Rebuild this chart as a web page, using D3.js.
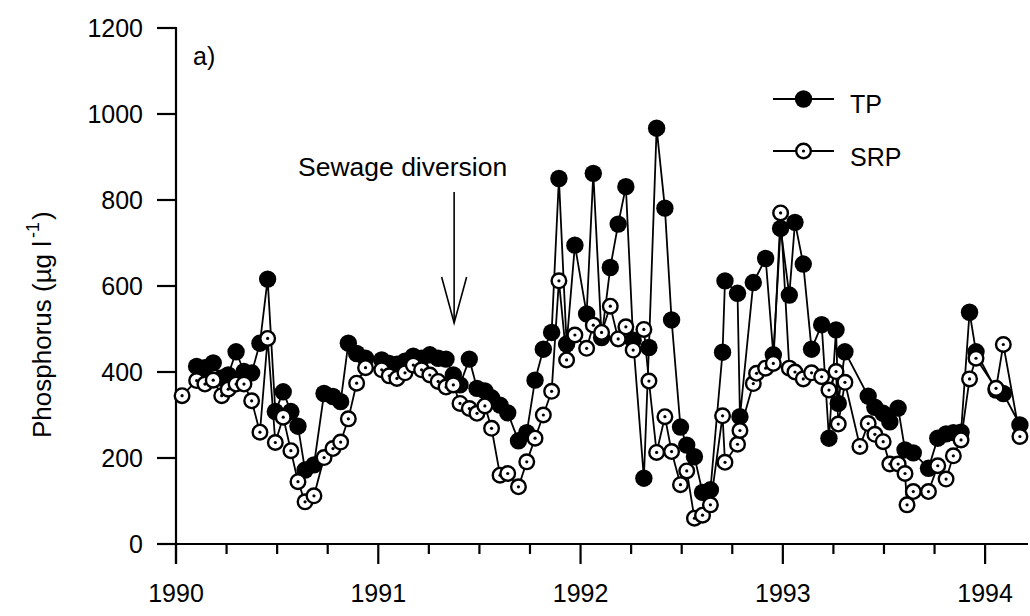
<!DOCTYPE html>
<html>
<head>
<meta charset="utf-8">
<script src="https://cdn.jsdelivr.net/npm/d3@7"></script>
<style>
  html, body { margin: 0; padding: 0; background: #fff; }
  svg { display: block; }
  text { font-family: "Liberation Sans", Arial, Helvetica, sans-serif; fill: #000; }
</style>
</head>
<body>
<svg id="chart" width="1030" height="616"></svg>
<script>
// Sampling dates (decimal years) and phosphorus concentrations (µg/l)
const dates = [
  1990.030, 1990.102, 1990.143, 1990.184, 1990.226, 1990.258, 1990.297, 1990.336, 1990.374, 1990.415,
  1990.453, 1990.491, 1990.530, 1990.568, 1990.603, 1990.638, 1990.682, 1990.732, 1990.776, 1990.814,
  1990.852, 1990.893, 1990.937, 1991.017, 1991.054, 1991.092, 1991.132, 1991.173, 1991.214, 1991.255,
  1991.296, 1991.335, 1991.371, 1991.404, 1991.450, 1991.488, 1991.527, 1991.560, 1991.602, 1991.640,
  1991.693, 1991.734, 1991.775, 1991.816, 1991.857, 1991.893, 1991.931, 1991.972, 1992.030, 1992.063,
  1992.104, 1992.147, 1992.186, 1992.224, 1992.260, 1992.313, 1992.338, 1992.376, 1992.417, 1992.450,
  1992.494, 1992.525, 1992.563, 1992.603, 1992.642, 1992.702, 1992.714, 1992.776, 1992.788, 1992.854,
  1992.870, 1992.915, 1992.953, 1992.989, 1993.032, 1993.060, 1993.101, 1993.142, 1993.192, 1993.228,
  1993.263, 1993.274, 1993.307, 1993.381, 1993.422, 1993.455, 1993.496, 1993.529, 1993.570, 1993.604,
  1993.614, 1993.645, 1993.720, 1993.766, 1993.807, 1993.843, 1993.881, 1993.923, 1993.955, 1994.054,
  1994.090, 1994.172
];

// Total phosphorus (null where no sample was plotted)
const tp = [
  null, 413, 410, 421, 386, 393, 447, 401, 398, 467,
  616, 308, 354, 308, 274, 172, 184, 350, 343, 331,
  467, 443, 432, 428, 420, 418, 425, 437, 432, 440,
  432, 430, 393, 370, 430, 362, 356, 340, 323, 305,
  240, 259, 381, 453, 492, 850, 465, 695, 535, 862,
  480, 643, 744, 831, 474, 153, 457, 967, 781, 521,
  272, 230, 203, 120, 126, 446, 612, 583, 296, 608,
  null, 664, 440, 734, 579, 748, 651, 453, 510, 246,
  498, 327, 447, null, 344, 318, 304, 284, 316, 219,
  null, 212, 176, 246, 256, 259, 260, 539, 447, 358,
  350, 277
];

// Soluble reactive phosphorus
const srp = [
  345, 380, 372, 381, 345, 360, 372, 372, 333, 260,
  478, 236, 295, 217, 145, 98, 112, 201, 222, 237,
  291, 374, 410, 405, 391, 385, 398, 416, 405, 393,
  378, 365, 370, 327, 315, 304, 321, 269, 160, 164,
  133, 191, 246, 300, 355, 612, 428, 486, 455, 509,
  492, 553, 477, 505, 451, 499, 379, 213, 296, 215,
  138, 170, 60, 67, 91, 298, 190, 232, 264, 373,
  397, 409, 420, 770, 409, 400, 384, 398, 389, 358,
  401, 279, 376, 227, 280, 255, 238, 186, 186, 164,
  91, 122, 122, 182, 151, 205, 242, 384, 432, 362,
  464, 250
];

const yTicks = [0, 200, 400, 600, 800, 1000, 1200];
const yearTicks = [1990, 1991, 1992, 1993, 1994];
const quarterTicks = d3.range(1990.25, 1994.2, 0.25).filter(q => q % 1 !== 0);

const svg = d3.select("#chart");
const x = d3.scaleLinear().domain([1990, 1994.212]).range([176, 1028]);
const y = d3.scaleLinear().domain([0, 1200]).range([544, 28]);

// Axes
const axisG = svg.append("g").attr("stroke", "#000").attr("stroke-width", 2.2);
axisG.append("line").attr("x1", x(1990)).attr("x2", x(1990)).attr("y1", y(1200) - 1).attr("y2", y(0) + 20);
axisG.append("line").attr("x1", x(1990) - 19).attr("x2", x.range()[1]).attr("y1", y(0)).attr("y2", y(0));
axisG.selectAll(".yt").data(yTicks).join("line")
  .attr("x1", x(1990) - 19).attr("x2", x(1990))
  .attr("y1", d => y(d)).attr("y2", d => y(d));
axisG.selectAll(".xm").data(yearTicks).join("line")
  .attr("x1", d => x(d)).attr("x2", d => x(d))
  .attr("y1", y(0)).attr("y2", y(0) + 20);
axisG.selectAll(".xq").data(quarterTicks).join("line")
  .attr("x1", d => x(d)).attr("x2", d => x(d))
  .attr("y1", y(0)).attr("y2", y(0) + 10);

svg.selectAll(".ylab").data(yTicks).join("text")
  .attr("x", x(1990) - 33).attr("y", d => y(d) + 9)
  .attr("text-anchor", "end").attr("font-size", 25)
  .text(d => d);
svg.selectAll(".xlab").data(yearTicks).join("text")
  .attr("x", d => x(d)).attr("y", 602)
  .attr("text-anchor", "middle").attr("font-size", 25)
  .text(d => d);

// Y axis title
const yt = svg.append("text")
  .attr("transform", "translate(51,438) rotate(-90)")
  .attr("text-anchor", "start").attr("font-size", 26);
yt.append("tspan").text("Phosphorus (µg l");
yt.append("tspan").attr("font-size", 18).attr("dx", 3).attr("dy", -12).text("-1");
yt.append("tspan").attr("dx", 2).attr("dy", 12).text(")");

// Panel label
svg.append("text").attr("x", 193).attr("y", 65).attr("font-size", 25).text("a)");

// Annotation
svg.append("text").attr("x", 298).attr("y", 176).attr("font-size", 26.5).text("Sewage diversion");
const arrowX = x(1991.375);
const ag = svg.append("g").attr("stroke", "#000").attr("stroke-width", 1.6).attr("fill", "none");
ag.append("line").attr("x1", arrowX).attr("x2", arrowX).attr("y1", 192).attr("y2", 323);
ag.append("path").attr("d", `M${arrowX - 12.5},277 L${arrowX},323 L${arrowX + 12.5},277`);

// Series
const rows = dates.map((d, i) => ({ d, tp: tp[i], srp: srp[i] }));
const tpRows = rows.filter(r => r.tp !== null);
const srpRows = rows.filter(r => r.srp !== null);

const lineTP = d3.line().x(r => x(r.d)).y(r => y(r.tp));
const lineSRP = d3.line().x(r => x(r.d)).y(r => y(r.srp));

svg.append("path").attr("d", lineTP(tpRows)).attr("fill", "none").attr("stroke", "#000").attr("stroke-width", 1.8);
svg.append("path").attr("d", lineSRP(srpRows)).attr("fill", "none").attr("stroke", "#000").attr("stroke-width", 1.8);

svg.selectAll(".tp").data(tpRows).join("circle")
  .attr("cx", r => x(r.d)).attr("cy", r => y(r.tp)).attr("r", 8.7).attr("fill", "#000");

const sg = svg.selectAll(".srp").data(srpRows).join("g")
  .attr("transform", r => `translate(${x(r.d)},${y(r.srp)})`);
sg.append("circle").attr("r", 7.3).attr("fill", "#fff").attr("stroke", "#000").attr("stroke-width", 2.4);
sg.append("circle").attr("r", 1.6).attr("fill", "#000");

// Legend
const lg = svg.append("g");
lg.append("line").attr("x1", 773).attr("x2", 834).attr("y1", 99).attr("y2", 99).attr("stroke", "#000").attr("stroke-width", 1.8);
lg.append("circle").attr("cx", 803.5).attr("cy", 99).attr("r", 8.7).attr("fill", "#000");
lg.append("text").attr("x", 850).attr("y", 113).attr("font-size", 25).text("TP");
lg.append("line").attr("x1", 773).attr("x2", 834).attr("y1", 151).attr("y2", 151).attr("stroke", "#000").attr("stroke-width", 1.8);
lg.append("circle").attr("cx", 803.5).attr("cy", 151).attr("r", 7.3).attr("fill", "#fff").attr("stroke", "#000").attr("stroke-width", 2.4);
lg.append("circle").attr("cx", 803.5).attr("cy", 151).attr("r", 1.6).attr("fill", "#000");
lg.append("text").attr("x", 850).attr("y", 166).attr("font-size", 25).text("SRP");
</script>
</body>
</html>
